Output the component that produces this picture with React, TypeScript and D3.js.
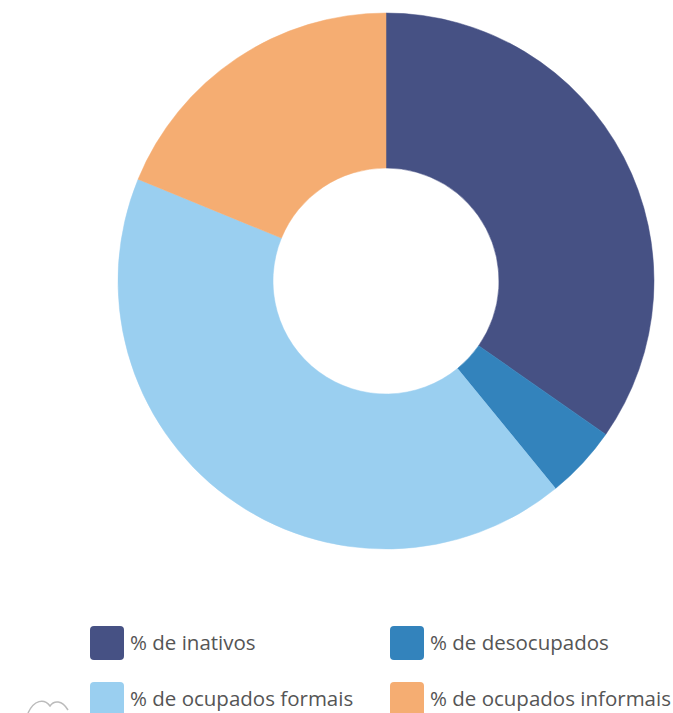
import React from "react";
import * as d3 from "d3";

const categories = ["% de inativos", "% de desocupados", "% de ocupados formais", "% de ocupados informais"];
const values = [34.7, 4.4, 42.1, 18.8];
const colors = ["#465184", "#3383bc", "#9acff0", "#f5ad72"];

export default function App() {
  const width = 673;
  const height = 713;
  const cx = 386;
  const cy = 281;
  const outerR = 268;
  const innerR = 113;

  const pie = d3.pie<number>().sort(null).value((d) => d);
  const arcs = pie(values);
  const arc = d3.arc<d3.PieArcDatum<number>>().innerRadius(innerR).outerRadius(outerR);

  const legendPos = [
    { x: 90, y: 626 },
    { x: 390, y: 626 },
    { x: 90, y: 682 },
    { x: 390, y: 682 },
  ];

  return (
    <svg
      width={width}
      height={height}
      style={{ position: "absolute", left: 0, top: 0, background: "#fff" }}
      fontFamily="'Open Sans', sans-serif"
    >
      <g transform={`translate(${cx},${cy})`}>
        {arcs.map((a, i) => (
          <path key={i} d={arc(a) || ""} fill={colors[i]} stroke={colors[i]} strokeWidth={0.5} />
        ))}
      </g>
      {categories.map((c, i) => (
        <g key={c} transform={`translate(${legendPos[i].x},${legendPos[i].y})`}>
          <rect x={0} y={0} width={34} height={34} rx={4} fill={colors[i]} />
          <text x={40} y={24} fontSize={20.5} fill="#555">
            {c}
          </text>
        </g>
      ))}
      <path d="M28,713 C34,700 44,698 50,706 C54,700 62,700 68,710" fill="none" stroke="#bbb" strokeWidth={1.5} />
    </svg>
  );
}
